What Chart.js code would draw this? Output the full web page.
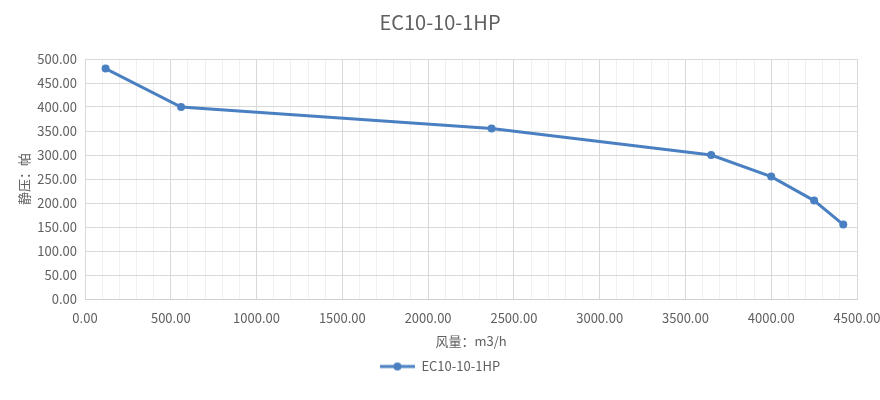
<!DOCTYPE html>
<html>
<head>
<meta charset="utf-8">
<script src="https://cdn.jsdelivr.net/npm/chart.js@4"></script>
<style>
  html, body { margin: 0; padding: 0; background: #fff; }
  #wrap { width: 880px; height: 400px; }
</style>
</head>
<body>
<div id="wrap"><canvas id="fanChart"></canvas></div>
<script>
// values
var flow = [120, 560, 2370, 3650, 4000, 4250, 4420];
var pressure = [480, 400, 355, 300, 255, 205, 155];
var seriesName = 'EC10-10-1HP';
var xTitle = '风量：m3/h';
var yTitle = '静压：帕';

var lineColor = '#4a80c2';
var textColor = '#606060';
var fontFamily = "'Noto Sans CJK SC', 'Open Sans', sans-serif";

// legend marker: short line with a dot in the middle, like the spreadsheet legend
var marker = document.createElement('canvas');
marker.width = 35;
marker.height = 10;
var mctx = marker.getContext('2d');
mctx.strokeStyle = lineColor;
mctx.lineWidth = 3;
mctx.beginPath();
mctx.moveTo(0, 5);
mctx.lineTo(35, 5);
mctx.stroke();
mctx.fillStyle = lineColor;
mctx.beginPath();
mctx.arc(17.5, 5, 4, 0, Math.PI * 2);
mctx.fill();

var points = flow.map(function(x, i) {
    return {x: x, y: pressure[i]};
});

var ctx = document.getElementById('fanChart').getContext('2d');
var fanChart = new Chart(ctx, {
    type: 'line',
    data: {
        datasets: [{
            label: seriesName,
            data: points,
            borderColor: lineColor,
            backgroundColor: lineColor,
            borderWidth: 3,
            pointRadius: 4,
            pointBorderWidth: 0,
            pointHoverRadius: 4,
            tension: 0
        }]
    },
    options: {
        responsive: true,
        maintainAspectRatio: false,
        animation: false,
        layout: {
            padding: {left: 0, right: 0, top: 0, bottom: 17}
        },
        plugins: {
            title: {
                display: true,
                text: seriesName,
                color: textColor,
                font: {family: fontFamily, size: 20, weight: 'normal'},
                padding: {top: 10, bottom: 25}
            },
            legend: {
                position: 'bottom',
                labels: {
                    color: textColor,
                    font: {family: fontFamily, size: 13},
                    usePointStyle: true,
                    pointStyleWidth: 35,
                    boxWidth: 35,
                    padding: 8,
                    generateLabels: function(chart) {
                        return chart.data.datasets.map(function(ds, i) {
                            return {
                                text: ds.label,
                                pointStyle: marker,
                                fontColor: textColor,
                                datasetIndex: i,
                                lineWidth: 0,
                                hidden: false
                            };
                        });
                    }
                }
            },
            tooltip: {enabled: false}
        },
        scales: {
            x: {
                type: 'linear',
                min: 0,
                max: 4500,
                afterFit: function(scale) {
                    scale.height = 53;
                    scale.paddingRight = 23;
                },
                ticks: {
                    stepSize: 100,
                    autoSkip: false,
                    maxRotation: 0,
                    color: textColor,
                    padding: 11,
                    font: {family: fontFamily, size: 13},
                    callback: function(value) {
                        return value % 500 === 0 ? value.toFixed(2) : '';
                    }
                },
                grid: {
                    drawTicks: false,
                    color: function(c) {
                        return c.tick && c.tick.value % 500 === 0 ? '#d9d9d9' : '#f0f0f0';
                    }
                },
                border: {color: '#d0d0d0'},
                title: {
                    display: true,
                    text: xTitle,
                    color: textColor,
                    font: {family: fontFamily, size: 13},
                    padding: {top: 0, bottom: 3}
                }
            },
            y: {
                min: 0,
                max: 500,
                afterFit: function(scale) { scale.width = 85; },
                ticks: {
                    stepSize: 50,
                    color: textColor,
                    padding: 8,
                    font: {family: fontFamily, size: 13},
                    callback: function(value) { return value.toFixed(2); }
                },
                grid: {drawTicks: false, color: '#d9d9d9'},
                border: {display: false},
                title: {
                    display: true,
                    text: yTitle,
                    color: textColor,
                    font: {family: fontFamily, size: 13},
                    padding: {top: 16, bottom: 0}
                }
            }
        }
    }
});
</script>
</body>
</html>
